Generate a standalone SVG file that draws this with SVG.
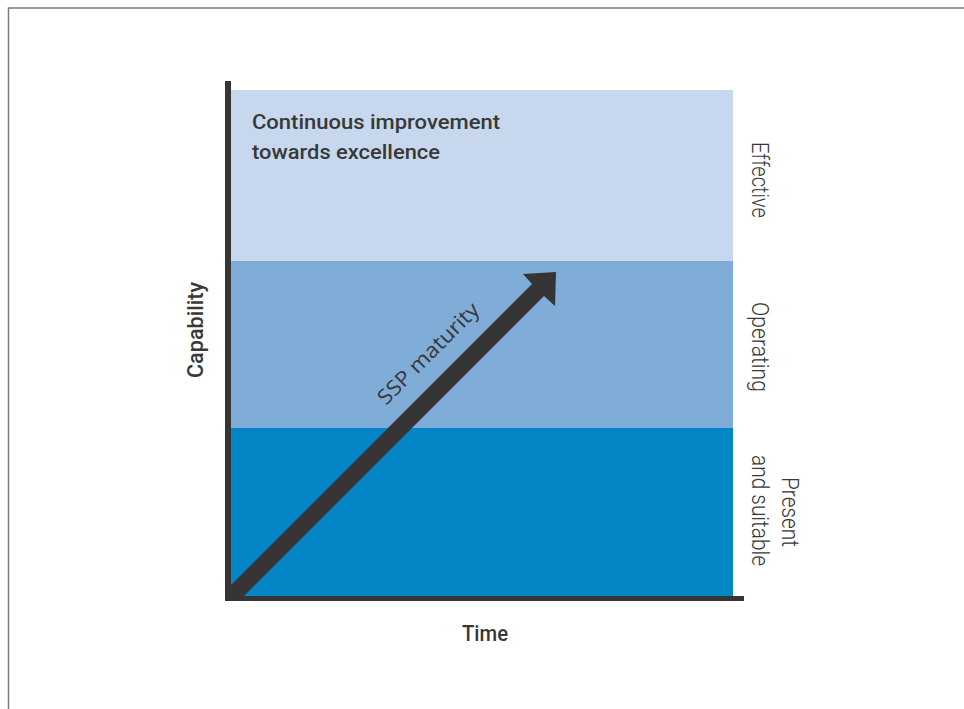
<svg xmlns="http://www.w3.org/2000/svg" width="964" height="709" viewBox="0 0 964 709">
<defs>
<style>
.ax{fill:#373435}
.lbl{font-family:Roboto,"Liberation Sans",sans-serif;fill:#383838}
.t-med{font-weight:500}
.t-light{font-weight:300}
</style>
</defs>
<rect x="0" y="0" width="964" height="709" fill="#ffffff"/>
<path d="M8.5 720 V8 H980" fill="none" stroke="#7a7a7a" stroke-width="1.5"/>
<g id="band-effective"><rect x="231" y="90" width="502" height="171" fill="#c7d8ee"/></g>
<g id="band-operating"><rect x="231" y="261" width="502" height="167" fill="#80acd8"/></g>
<g id="band-present"><rect x="231" y="428" width="502" height="170" fill="#0286c6"/></g>
<g id="heading">
<text class="lbl t-med" x="252" y="129" font-size="21" textLength="248" lengthAdjust="spacingAndGlyphs">Continuous improvement</text>
<text class="lbl t-med" x="252" y="159" font-size="21" textLength="188" lengthAdjust="spacingAndGlyphs">towards excellence</text>
</g>
<g id="labels-right">
<text class="lbl t-light" transform="translate(752,142) rotate(90)" font-size="23" textLength="76" lengthAdjust="spacingAndGlyphs">Effective</text>
<text class="lbl t-light" transform="translate(752,302) rotate(90)" font-size="23" textLength="90" lengthAdjust="spacingAndGlyphs">Operating</text>
<text class="lbl t-light" transform="translate(782,477) rotate(90)" font-size="23" textLength="70" lengthAdjust="spacingAndGlyphs">Present</text>
<text class="lbl t-light" transform="translate(752,455) rotate(90)" font-size="23" textLength="111" lengthAdjust="spacingAndGlyphs">and suitable</text>
</g>
<g id="axis-labels">
<text class="lbl t-med" transform="translate(203,378) rotate(-90)" font-size="22" textLength="96" lengthAdjust="spacingAndGlyphs">Capability</text>
<text class="lbl t-med" x="462" y="641" font-size="22" textLength="46" lengthAdjust="spacingAndGlyphs">Time</text>
</g>
<g id="connectors">
<polygon class="ax" points="227,589 532,284 523,274 556,272 555,306 544,296 242,598 227,598"/>
<rect class="ax" x="225" y="81" width="6" height="520"/>
<rect class="ax" x="225" y="596" width="519" height="5"/>
</g>
<g id="arrow-label">
<text transform="translate(386,406) rotate(-45)" font-family="'Open Sans','Noto Sans',sans-serif" font-size="21" fill="#383838" textLength="134" lengthAdjust="spacingAndGlyphs">SSP maturity</text>
</g>
</svg>
